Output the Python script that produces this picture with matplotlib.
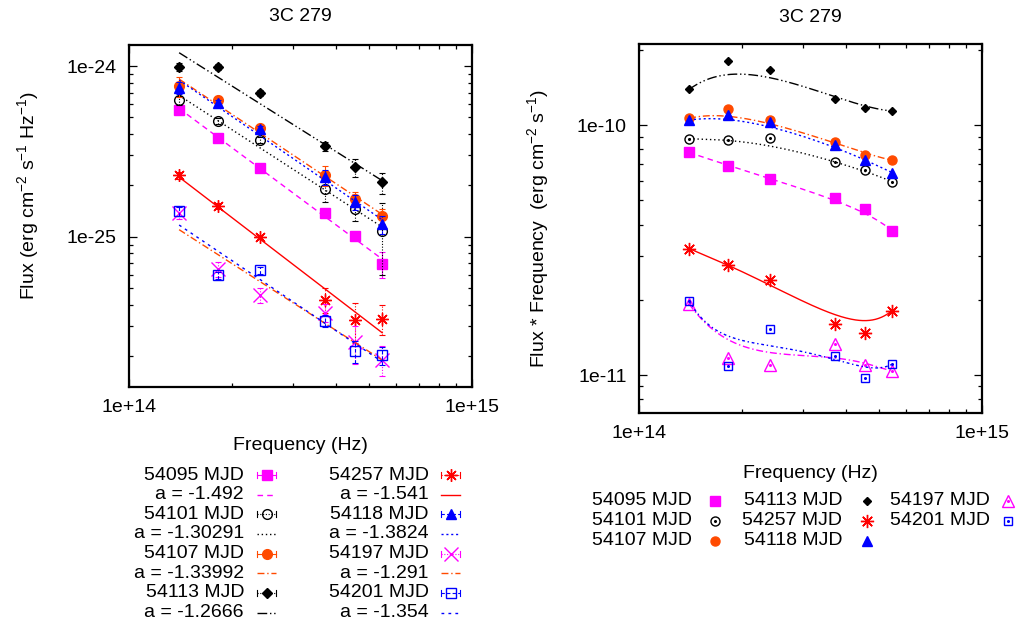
import math
import numpy as np
import matplotlib
matplotlib.use("Agg")
import matplotlib.pyplot as plt
from matplotlib.lines import Line2D
from matplotlib.ticker import LogLocator, FixedLocator, FuncFormatter, NullFormatter

plt.rcParams['font.family'] = ['Liberation Sans', 'DejaVu Sans']
plt.rcParams['mathtext.fontset'] = 'custom'
plt.rcParams['mathtext.rm'] = 'Liberation Sans'
plt.rcParams['mathtext.it'] = 'Liberation Sans:italic'
plt.rcParams['mathtext.default'] = 'regular'
plt.rcParams['font.size'] = 14

# ---------------------------------------------------------------- data
freq = np.array([1.40e14, 1.82e14, 2.41e14, 3.73e14, 4.56e14, 5.47e14])  # Hz

epochs = ["54095", "54101", "54107", "54113", "54257", "54118", "54197", "54201"]
slope_text = ["-1.492", "-1.30291", "-1.33992", "-1.2666",
              "-1.541", "-1.3824", "-1.291", "-1.354"]

flux_54095 = np.array([5.55, 3.78, 2.53, 1.37, 1.01, 0.692]) * 1e-25
flux_54101 = np.array([6.30, 4.78, 3.67, 1.90, 1.45, 1.085]) * 1e-25
flux_54107 = np.array([7.60, 6.35, 4.33, 2.29, 1.67, 1.323]) * 1e-25
flux_54113 = np.array([9.92, 9.90, 6.92, 3.40, 2.56, 2.08]) * 1e-25
flux_54257 = np.array([2.29, 1.51, 0.995, 0.428, 0.324, 0.331]) * 1e-25
flux_54118 = np.array([7.48, 6.05, 4.26, 2.24, 1.59, 1.18]) * 1e-25
flux_54197 = np.array([1.374, 0.645, 0.457, 0.358, 0.240, 0.190]) * 1e-25
flux_54201 = np.array([1.41, 0.595, 0.635, 0.320, 0.213, 0.202]) * 1e-25

err_54095 = np.array([0.17, 0.08, 0.05, 0.06, 0.05, 0.12]) * 1e-25
err_54101 = np.array([0.38, 0.19, 0.15, 0.30, 0.22, 0.49]) * 1e-25
err_54107 = np.array([0.99, 0.32, 0.22, 0.30, 0.17, 0.13]) * 1e-25
err_54113 = np.array([0.50, 0.40, 0.28, 0.20, 0.31, 0.29]) * 1e-25
err_54257 = np.array([0.11, 0.06, 0.03, 0.073, 0.087, 0.066]) * 1e-25
err_54118 = np.array([0.60, 0.24, 0.17, 0.22, 0.16, 0.14]) * 1e-25
err_54197 = np.array([0.11, 0.065, 0.046, 0.043, 0.06, 0.038]) * 1e-25
err_54201 = np.array([0.085, 0.03, 0.032, 0.026, 0.032, 0.024]) * 1e-25

fluxes = [flux_54095, flux_54101, flux_54107, flux_54113,
          flux_54257, flux_54118, flux_54197, flux_54201]
errors = [err_54095, err_54101, err_54107, err_54113,
          err_54257, err_54118, err_54197, err_54201]
slopes = [float(s) for s in slope_text]

x_major = [1e14, 1e15]
y_major_flux = [1e-25, 1e-24]
y_major_nufnu = [1e-11, 1e-10]

# ---------------------------------------------------------------- styles
MAG, BLK, ORA, RED, BLU = '#ff00ff', '#000000', '#ff4a00', '#ff0000', '#0000ff'
ASTER = (8, 2, 0)

left_style = [
    dict(m='s', ms=6.5, fill=True, c=MAG, eb='-', lc=MAG, ls=(0, (4, 3))),
    dict(m='o', ms=7.0, fill=False, c=BLK, eb=(0, (1, 1.5)), lc=BLK, ls=(0, (1, 2))),
    dict(m='o', ms=7.0, fill=True, c=ORA, eb='-', lc=ORA, ls=(0, (5, 2, 1, 2))),
    dict(m='D', ms=5.2, fill=True, c=BLK, eb=(0, (1, 1.5)), lc=BLK, ls=(0, (7, 2, 1, 2, 1, 2))),
    dict(m=ASTER, ms=9.0, fill=False, c=RED, eb=(0, (1, 1.5)), lc=RED, ls='-'),
    dict(m='^', ms=7.5, fill=True, c=BLU, eb=(0, (3, 2)), lc=BLU, ls=(0, (1.5, 2))),
    dict(m='x', ms=9.5, fill=False, c=MAG, eb=(0, (1, 1.5)), lc=ORA, ls=(0, (5, 2, 1, 2))),
    dict(m='s', ms=6.5, fill=False, c=BLU, eb=(0, (3, 2)), lc=BLU, ls=(0, (2, 3))),
]

right_style = [
    dict(m='s', ms=6.5, fill=True, c=MAG, dot=False, lc=MAG, ls=(0, (4, 3))),
    dict(m='o', ms=6.5, fill=False, c=BLK, dot=True, lc=BLK, ls=(0, (1, 2))),
    dict(m='o', ms=6.5, fill=True, c=ORA, dot=False, lc=ORA, ls=(0, (5, 2, 1, 2))),
    dict(m='D', ms=4.4, fill=True, c=BLK, dot=False, lc=BLK, ls=(0, (7, 2, 1, 2, 1, 2))),
    dict(m=ASTER, ms=9.5, fill=False, c=RED, dot=False, lc=RED, ls='-'),
    dict(m='^', ms=7.5, fill=True, c=BLU, dot=False, lc=BLU, ls=(0, (1.5, 2))),
    dict(m='^', ms=8.0, fill=False, c=MAG, dot=True, lc=MAG, ls=(0, (5, 2, 1, 2))),
    dict(m='s', ms=6.3, fill=False, c=BLU, dot=True, lc=BLU, ls=(0, (2, 2, 1, 2))),
]

W, H = 1019, 628
fig = plt.figure(figsize=(W / 100, H / 100), dpi=100)


def axes_px(x0, y0, x1, y1):
    return fig.add_axes([x0 / W, 1 - y1 / H, (x1 - x0) / W, (y1 - y0) / H])


ax1 = axes_px(129, 45, 472, 387)
ax2 = axes_px(639, 44, 982, 413)


def decade_label(v, pos):
    e = int(round(math.log10(v)))
    return f"1e{e:+d}"


for ax, ymaj in ((ax1, y_major_flux), (ax2, y_major_nufnu)):
    ax.set_xscale('log')
    ax.set_yscale('log')
    ax.set_xlim(1e14, 1e15)
    for axis, maj in ((ax.xaxis, x_major), (ax.yaxis, ymaj)):
        axis.set_major_locator(FixedLocator(maj))
        axis.set_minor_locator(LogLocator(base=10, subs=np.arange(2, 10), numticks=20))
        axis.set_major_formatter(FuncFormatter(decade_label))
        axis.set_minor_formatter(NullFormatter())
    ax.tick_params(which='both', direction='in', top=True, right=True, width=0.9)
    ax.tick_params(which='major', length=6, pad=9, labelsize=14)
    ax.tick_params(which='minor', length=3)
    for sp in ax.spines.values():
        sp.set_linewidth(1.6)

ax1.set_ylim(1.315e-26, 1.33e-24)
ax2.set_ylim(7.05e-12, 2.11e-10)


def bezier(xs, ys, n=200):
    lx, ly = np.log10(xs), np.log10(ys)
    N = len(lx) - 1
    t = np.linspace(0, 1, n)
    bx = np.zeros(n)
    by = np.zeros(n)
    for k in range(N + 1):
        b = math.comb(N, k) * t ** k * (1 - t) ** (N - k)
        bx += b * lx[k]
        by += b * ly[k]
    return 10 ** bx, 10 ** by


lognu = np.log10(freq)
for i, (f, e, a) in enumerate(zip(fluxes, errors, slopes)):
    st = left_style[i]
    z = 3 + i
    eb = ax1.errorbar(freq, f, yerr=e, fmt='none', ecolor=st['c'], elinewidth=0.8,
                      capsize=2.5, capthick=0.8, zorder=z)
    eb[2][0].set_linestyle(st['eb'])
    ax1.plot(freq, f, linestyle='none', marker=st['m'], markersize=st['ms'],
             markerfacecolor=st['c'] if st['fill'] else 'none',
             markeredgecolor=st['c'], markeredgewidth=1.0, zorder=z)
    # power-law F = C * nu^a with the quoted index
    logc = np.mean(np.log10(f) - a * lognu)
    ax1.plot(freq[[0, -1]], 10 ** (logc + a * lognu[[0, -1]]), color=st['lc'],
             linestyle=st['ls'], linewidth=1.0, zorder=z)

    rs = right_style[i]
    nuf = f * freq
    bx, by = bezier(freq, nuf)
    ax2.plot(bx, by, color=rs['lc'], linestyle=rs['ls'], linewidth=1.0, zorder=z)
    ax2.plot(freq, nuf, linestyle='none', marker=rs['m'], markersize=rs['ms'],
             markerfacecolor=rs['c'] if rs['fill'] else 'none',
             markeredgecolor=rs['c'], markeredgewidth=1.0, zorder=z)
    if rs['dot']:
        ax2.plot(freq, nuf, linestyle='none', marker='o', markersize=1.2,
                 markerfacecolor=rs['c'], markeredgecolor=rs['c'], zorder=z)

# ---------------------------------------------------------------- labels
ax1.set_title("3C 279", fontsize=14, pad=0, y=1.082, va='center')
ax2.set_title("3C 279", fontsize=14, pad=0, y=1.073, va='center')
ax1.set_xlabel("Frequency (Hz)", fontsize=14)
ax1.xaxis.set_label_coords(0.5, -0.145)
ax2.set_xlabel("Frequency (Hz)", fontsize=14)
ax2.xaxis.set_label_coords(0.5, -0.141)
ax1.set_ylabel(r"Flux (erg cm$^{-2}$ s$^{-1}$ Hz$^{-1}$)", fontsize=14)
ax1.yaxis.set_label_coords(-0.257, 0.56)
ax2.set_ylabel(r"Flux * Frequency  (erg cm$^{-2}$ s$^{-1}$)", fontsize=14)
ax2.yaxis.set_label_coords(-0.257, 0.50)


# ---------------------------------------------------------------- keys
def fx(x):
    return x / W


def fy(y):
    return 1 - y / H


def key_line(x0, x1, y, **kw):
    fig.add_artist(Line2D([fx(x0), fx(x1)], [fy(y), fy(y)], transform=fig.transFigure, **kw))


row_h = 19.65
for i in range(8):
    st = left_style[i]
    col, r = divmod(i, 4)
    tx = 244 if col == 0 else 429
    s0 = 257 if col == 0 else 441
    s1 = s0 + 19
    y_pt = 475 + (2 * r) * row_h
    y_fit = y_pt + row_h
    fig.text(fx(tx), fy(y_pt), f"{epochs[i]} MJD", ha='right', va='center', fontsize=14)
    fig.text(fx(tx), fy(y_fit), f"a = {slope_text[i]}", ha='right', va='center', fontsize=14)
    key_line(s0, s1, y_pt, color=st['c'], linewidth=0.8, linestyle=st['eb'])
    for xc in (s0, s1):
        fig.add_artist(Line2D([fx(xc), fx(xc)], [fy(y_pt - 3), fy(y_pt + 3)],
                              transform=fig.transFigure, color=st['c'], linewidth=0.8))
    fig.add_artist(Line2D([fx((s0 + s1) / 2)], [fy(y_pt)], transform=fig.transFigure,
                          linestyle='none', marker=st['m'], markersize=st['ms'],
                          markerfacecolor=st['c'] if st['fill'] else 'none',
                          markeredgecolor=st['c'], markeredgewidth=1.0))
    key_line(s0, s1, y_fit, color=st['lc'], linewidth=1.0, linestyle=st['ls'])

for i in range(8):
    rs = right_style[i]
    col, r = divmod(i, 3)
    tx = [692, 842, 990][col]
    mx = [715, 867, 1008][col]
    y = 500.7 + r * 20
    fig.text(fx(tx), fy(y), f"{epochs[i]} MJD", ha='right', va='center', fontsize=14)
    fig.add_artist(Line2D([fx(mx)], [fy(y)], transform=fig.transFigure,
                          linestyle='none', marker=rs['m'], markersize=rs['ms'],
                          markerfacecolor=rs['c'] if rs['fill'] else 'none',
                          markeredgecolor=rs['c'], markeredgewidth=1.0))
    if rs['dot']:
        fig.add_artist(Line2D([fx(mx)], [fy(y)], transform=fig.transFigure,
                              linestyle='none', marker='o', markersize=1.2,
                              markerfacecolor=rs['c'], markeredgecolor=rs['c']))

fig.savefig("out.png", dpi=100)
